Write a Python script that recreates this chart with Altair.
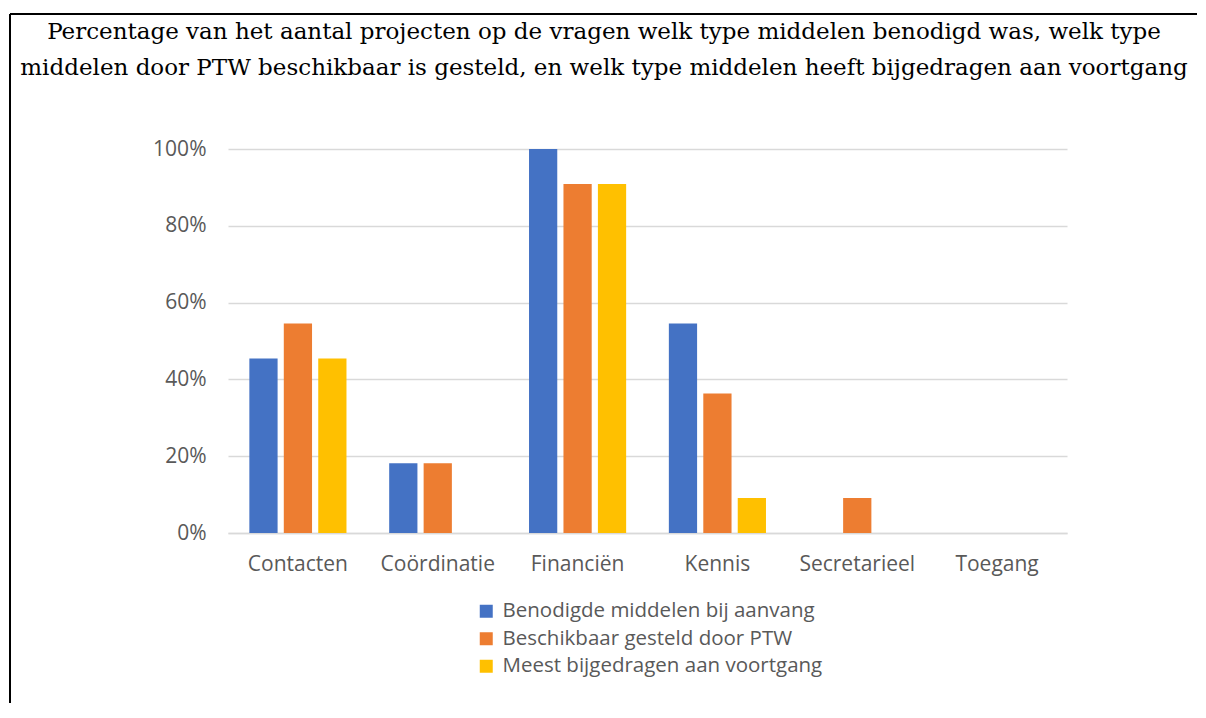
import altair as alt
import pandas as pd

categories = ["Contacten", "Coördinatie", "Financiën", "Kennis", "Secretarieel", "Toegang"]
series = [
    "Benodigde middelen bij aanvang",
    "Beschikbaar gesteld door PTW",
    "Meest bijgedragen aan voortgang",
]
benodigd = [0.4545, 0.1818, 1.0, 0.5455, 0.0, 0.0]
beschikbaar = [0.5455, 0.1818, 0.9091, 0.3636, 0.0909, 0.0]
bijgedragen = [0.4545, 0.0, 0.9091, 0.0909, 0.0, 0.0]
colors = ["#4472C4", "#ED7D31", "#FFC000"]
y_ticks = [0, 0.2, 0.4, 0.6, 0.8, 1.0]
title_lines = [
    "Percentage van het aantal projecten op de vragen welk type middelen benodigd was, welk type",
    "middelen door PTW beschikbaar is gesteld, en welk type middelen heeft bijgedragen aan voortgang",
]

rows = []
for s, vals in zip(series, [benodigd, beschikbaar, bijgedragen]):
    for c, v in zip(categories, vals):
        rows.append({"categorie": c, "reeks": s, "waarde": v})
df = pd.DataFrame(rows)

LABEL_FONT = "Open Sans"
GRAY = "#595959"

bars = alt.Chart(df).mark_bar().encode(
    x=alt.X(
        "categorie:N",
        sort=categories,
        title=None,
        scale=alt.Scale(paddingInner=0, paddingOuter=0),
        axis=alt.Axis(
            labelAngle=0,
            ticks=False,
            domain=True,
            domainColor="#d9d9d9",
            domainWidth=1.5,
            labelFont=LABEL_FONT,
            labelFontSize=21,
            labelColor=GRAY,
            labelPadding=20,
            grid=False,
        ),
    ),
    xOffset=alt.XOffset(
        "reeks:N",
        sort=series,
        scale=alt.Scale(paddingInner=0.18, paddingOuter=0.62),
    ),
    y=alt.Y(
        "waarde:Q",
        title=None,
        scale=alt.Scale(domain=[0, 1]),
        axis=alt.Axis(
            values=y_ticks,
            format=".0%",
            domain=False,
            ticks=False,
            gridColor="#d9d9d9",
            gridWidth=1.5,
            labelFont=LABEL_FONT,
            labelFontSize=21,
            labelColor=GRAY,
            labelPadding=22,
        ),
    ),
    color=alt.Color(
        "reeks:N",
        sort=series,
        scale=alt.Scale(domain=series, range=colors),
        legend=alt.Legend(
            title=None,
            orient="none",
            legendX=248,
            legendY=452,
            direction="vertical",
            symbolType="square",
            symbolSize=169,
            symbolStrokeWidth=0,
            labelFont=LABEL_FONT,
            labelFontSize=20.5,
            labelColor=GRAY,
            labelLimit=500,
            rowPadding=6.5,
            labelOffset=6,
        ),
    ),
)

title = alt.Chart(alt.Data(values=[{}])).mark_text(
    font="DejaVu Serif",
    fontSize=23,
    color="black",
    lineHeight=36,
    align="center",
    baseline="middle",
).encode(
    text=alt.value(title_lines),
    x=alt.value(376),
    y=alt.value(-117),
)

border_top = alt.Chart(alt.Data(values=[{}])).mark_rule(color="black", strokeWidth=2).encode(
    x=alt.value(-218), x2=alt.value(980), y=alt.value(-135)
)
border_left = alt.Chart(alt.Data(values=[{}])).mark_rule(color="black", strokeWidth=2).encode(
    x=alt.value(-218), y=alt.value(-135), y2=alt.value(560)
)

chart = alt.layer(bars, title, border_top, border_left).properties(
    width=839,
    height=384,
    autosize="none",
    padding={"left": 220, "top": 141, "right": 130, "bottom": 170},
    background="white",
).configure_view(stroke=None)

chart.save("out.html", embed_options={"renderer": "svg", "actions": False})
